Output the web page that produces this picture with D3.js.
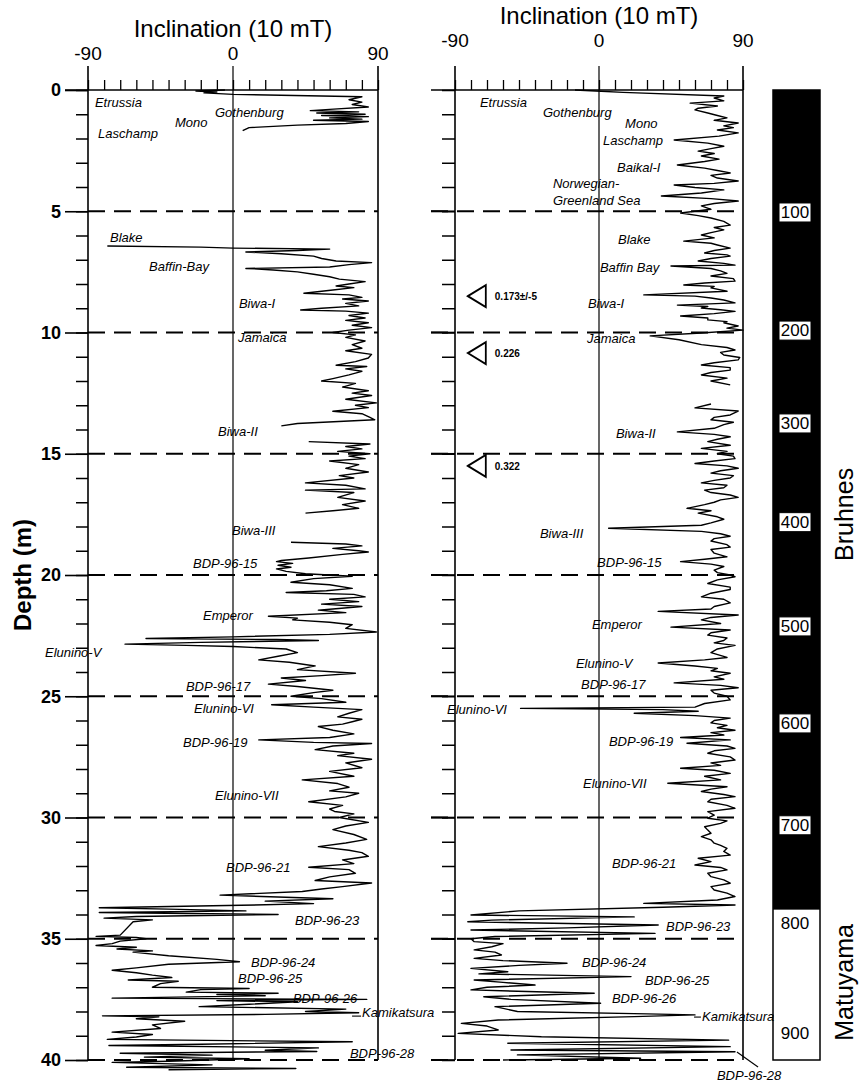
<!DOCTYPE html>
<html>
<head>
<meta charset="utf-8">
<script src="https://cdn.jsdelivr.net/npm/d3@7"></script>
<style>
body { margin: 0; background: #fff; }
svg { font-family: "Liberation Sans", Arial, sans-serif; }
.event { font-style: italic; font-size: 13px; }
</style>
</head>
<body>
<script>
// left core: [depth (m), inclination (deg)], one array per recovered interval
const leftSeg1 = [[0,-5],[0.04,-23],[0.08,-10],[0.12,-18],[0.18,0],[0.28,80],[0.4,72],[0.5,80],[0.6,74],[0.7,84],
  [0.8,60],[0.85,48],[0.9,78],[0.95,52],[1.0,82],[1.05,55],[1.1,84],[1.15,60],[1.2,80],[1.25,50],[1.3,84],[1.38,70],
  [1.45,40],[1.55,10],[1.68,6]];
const leftSeg2 = [[6.43,-78],[6.48,-20],[6.52,0],[6.56,60],[6.62,40],[6.68,8],[6.75,30],[6.85,50],[6.95,55],[7.05,64],
  [7.12,86],[7.2,72],[7.3,60],[7.36,8],[7.42,25],[7.5,40],[7.6,50],[7.7,60],[7.8,66],[7.9,82],[8.0,72],[8.08,64],
  [8.15,75],[8.25,62],[8.38,44],[8.45,72],[8.55,80],[8.62,68],[8.7,84],[8.8,70],[8.9,78],[9.0,55],[9.07,42],[9.12,70],
  [9.2,84],[9.3,72],[9.4,82],[9.5,70],[9.6,84],[9.7,74],[9.8,86],[9.9,72],[10.0,62],[10.1,76],[10.2,70],[10.35,82],
  [10.5,74],[10.65,80],[10.75,70],[10.9,86],[11.05,84],[11.2,76],[11.35,64],[11.4,83],[11.5,70],[11.6,80],[11.75,72],
  [11.9,62],[12.0,55],[12.1,76],[12.25,68],[12.4,84],[12.5,74],[12.6,86],[12.75,70],[12.9,89],[13.0,76],[13.1,84],
  [13.25,62],[13.35,80],[13.5,85],[13.6,88],[13.75,40],[13.85,30]];
const leftSeg3 = [[14.5,47],[14.6,85],[14.7,70],[14.8,80],[14.9,65],[15.0,85],[15.1,72],[15.2,82],[15.3,60],[15.45,78],
  [15.6,70],[15.75,84],[15.9,66],[16.0,75],[16.2,45],[16.3,70],[16.45,82],[16.5,45],[16.6,75],[16.8,65],[16.95,82],
  [17.1,68],[17.25,78],[17.35,62],[17.45,45]];
const leftSeg4 = [[18.65,36],[18.72,70],[18.8,80],[18.9,62],[19.0,78],[19.05,84],[19.15,68],[19.3,47],[19.4,30],[19.45,27],
  [19.52,37],[19.6,28],[19.68,36],[19.75,27],[19.85,33],[19.95,45],[20.05,74],[20.15,50],[20.3,36],[20.4,60],[20.55,74],
  [20.65,58],[20.72,33],[20.8,75],[20.9,82],[21.0,60],[21.1,78],[21.2,55],[21.3,80],[21.4,62],[21.45,53],[21.55,70],
  [21.7,22],[21.78,40],[21.85,37],[21.95,60],[22.05,74],[22.2,70],[22.35,89],[22.45,60],[22.55,0],[22.62,-54],[22.66,27],
  [22.7,53],[22.78,-20],[22.85,-67],[22.9,-29],[22.95,0],[23.05,33],[23.2,40],[23.35,28],[23.5,16],[23.6,35],[23.75,51],
  [23.9,40],[24.05,76],[24.15,55],[24.25,30],[24.35,45],[24.5,22],[24.6,40],[24.75,62],[24.85,50],[25.0,36],[25.1,55],
  [25.25,70],[25.35,24],[25.45,50],[25.55,80],[25.7,72],[25.85,65],[25.95,80],[26.05,74],[26.15,68],[26.25,53],[26.4,62],
  [26.55,75],[26.7,60],[26.8,16],[26.9,50],[26.95,86],[27.05,62],[27.2,51],[27.35,75],[27.45,65],[27.6,86],[27.75,70],
  [27.95,80],[28.1,60],[28.3,75],[28.45,43],[28.6,65],[28.75,72],[28.9,60],[29.0,78],[29.15,70],[29.35,47],[29.5,68],
  [29.65,60],[29.75,63],[29.85,75],[30.0,66],[30.2,84],[30.35,70],[30.5,62],[30.7,75],[30.9,83],[31.05,70],[31.2,53],
  [31.35,72],[31.45,80],[31.6,84],[31.75,68],[31.9,75],[32.05,47],[32.15,72],[32.3,76],[32.45,60],[32.6,51],[32.7,86],
  [32.85,68],[32.95,55],[33.05,43],[33.2,-8],[33.35,62],[33.45,20],[33.55,50],[33.62,5],[33.72,-83],[33.78,-40],
  [33.85,8],[33.92,-83],[34.0,28],[34.08,-60],[34.15,-80],[34.22,-50],[34.3,-62],[34.85,-70],[34.9,-85],[34.95,-60],
  [35.0,-54],[35.1,-70],[35.2,-75],[35.28,-85],[35.35,-60],[35.42,-72],[35.5,-50],[35.55,-62],[35.7,-40],[35.85,-10],
  [35.95,4],[36.05,-40],[36.2,-60],[36.3,-75],[36.4,-60],[36.5,-50],[36.6,-38],[36.7,-65],[36.75,-34],[36.85,-45],
  [37.0,-50],[37.05,10],[37.1,-20],[37.2,-29],[37.25,28],[37.3,-10],[37.35,20],[37.45,-75],[37.5,83],[37.55,-10],
  [37.6,40],[37.7,10],[37.8,-21],[37.9,70],[38.0,45],[38.05,78],[38.12,20],[38.18,-81],[38.22,-46],[38.3,-60],
  [38.4,-30],[38.55,-50],[38.7,-45],[38.85,-75],[38.95,-50],[39.05,-60],[39.15,-78],[39.25,74],[39.35,-20],[39.4,-77],
  [39.5,53],[39.6,20],[39.65,52],[39.72,-70],[39.8,-13],[39.88,-55],[39.95,10],[40.05,-40],[40.1,-75],[40.2,-13],
  [40.3,-66],[40.35,39],[40.4,-40]];

// right core
const rightSeg1 = [[0,-15],[0.04,-2],[0.1,15],[0.25,78],[0.33,72],[0.45,78],[0.54,57],[0.66,74],[0.75,62],[0.82,60],
  [0.95,68],[1.05,74],[1.15,80],[1.25,72],[1.36,87],[1.48,78],[1.55,84],[1.65,74],[1.77,87],[1.9,75],[2.06,47],[2.19,68],
  [2.32,78],[2.42,70],[2.52,62],[2.62,72],[2.72,64],[2.85,75],[2.95,66],[3.09,49],[3.22,66],[3.32,74],[3.42,82],[3.52,70],
  [3.63,74],[3.75,87],[3.85,72],[3.92,47],[4.02,60],[4.12,78],[4.25,64],[4.37,39],[4.48,70],[4.58,87],[4.68,72],[4.78,64],
  [4.92,70],[5.07,51],[5.18,62],[5.28,70],[5.42,78],[5.57,82],[5.67,72],[5.77,78],[5.88,70],[5.98,64],[6.1,72],[6.23,53],
  [6.32,70],[6.39,74],[6.52,82],[6.62,72],[6.72,66],[6.8,80],[6.85,82],[6.95,70],[7.05,62],[7.15,78],[7.22,85],[7.26,45],
  [7.36,70],[7.46,76],[7.56,80],[7.67,70],[7.78,84],[7.88,85],[7.96,66],[8.04,53],[8.1,72],[8.16,70],[8.3,80],[8.45,28],
  [8.5,60],[8.58,70],[8.66,78],[8.78,85],[8.87,49],[8.93,68],[8.99,64],[9.06,76],[9.13,85],[9.22,72],[9.32,51],[9.4,68],
  [9.48,68],[9.55,80],[9.6,78],[9.73,87],[9.82,80],[9.9,90],[10.02,64],[10.14,32],[10.3,50],[10.5,64],[10.62,80],
  [10.72,85],[10.82,76],[10.93,78],[11.03,88],[11.13,87],[11.25,72],[11.34,64],[11.45,82],[11.55,82],[11.65,70],
  [11.75,64],[11.88,80],[12.0,70],[12.16,82]];
const rightSeg2 = [[12.95,70],[13.11,60],[13.24,87],[13.4,82],[13.5,72],[13.6,70],[13.7,84],[13.8,78],[13.95,72],[14.1,49],
  [14.2,72],[14.3,82],[14.4,74],[14.5,68],[14.65,82],[14.78,64],[14.9,80],[15.0,74],[15.1,84],[15.2,85],[15.3,72],[15.4,60],
  [15.5,80],[15.6,87],[15.7,76],[15.8,70],[15.9,84],[16.0,82],[16.1,72],[16.2,64],[16.3,80],[16.4,78],[16.5,66],[16.6,70],
  [16.7,82],[16.8,87],[16.9,76],[17.0,72],[17.1,66],[17.25,55],[17.35,70],[17.45,62],[17.6,74],[17.7,78],[17.85,70],
  [17.95,64],[18.07,6],[18.2,64],[18.3,76],[18.4,82],[18.5,72],[18.6,70],[18.75,80],[18.85,82],[18.95,70],[19.1,72],
  [19.25,80],[19.35,66],[19.45,51],[19.55,70],[19.65,78],[19.8,72],[19.9,74],[20.0,82],[20.07,85],[20.2,74],[20.35,68],
  [20.5,82],[20.6,82],[20.75,70],[20.9,64],[21.0,78],[21.15,82],[21.3,72],[21.4,70],[21.5,37],[21.65,87],[21.75,70],
  [21.85,64],[22.0,76],[22.15,45],[22.27,82],[22.38,70],[22.48,68],[22.6,80],[22.7,78],[22.8,72],[22.9,85],[23.05,74],
  [23.2,70],[23.4,80],[23.5,66],[23.63,37],[23.75,60],[23.85,74],[23.95,70],[24.05,82],[24.2,72],[24.3,78],[24.45,47],
  [24.55,76],[24.65,87],[24.75,70],[24.87,72],[25.0,80],[25.15,82],[25.3,66],[25.45,60],[25.5,-49],[25.55,40],[25.62,62],
  [25.7,22],[25.8,60],[25.9,82],[26.0,72],[26.1,70],[26.2,80],[26.3,74],[26.4,85],[26.5,70],[26.6,78],[26.7,51],[26.8,82],
  [26.94,55],[27.05,80],[27.15,85],[27.25,72],[27.35,68],[27.5,82],[27.63,85],[27.75,70],[27.85,76],[27.97,51],[28.05,72],
  [28.18,82],[28.3,66],[28.45,76],[28.59,43],[28.73,80],[28.83,70],[28.93,64],[29.05,78],[29.14,85],[29.25,70],[29.35,68],
  [29.5,80],[29.62,85],[29.76,68],[29.9,72],[30.03,68],[30.14,80],[30.24,76],[30.38,66],[30.52,68],[30.65,70],[30.79,64],
  [30.92,70],[31.06,72],[31.15,76],[31.27,80],[31.4,78],[31.55,82],[31.68,62],[31.82,70],[31.96,60],[32.06,76],[32.16,80],
  [32.3,68],[32.44,70],[32.57,78],[32.71,82],[32.85,70],[32.99,72],[33.12,80],[33.26,85],[33.4,74],[33.54,28],[33.61,85],
  [33.7,40],[33.85,-50],[34.02,-80],[34.1,22],[34.23,-67],[34.3,-82],[34.43,37],[34.55,-20],[34.64,-80],[34.78,35],
  [34.91,-65],[35.0,-80],[35.12,-78],[35.2,-60],[35.33,-67],[35.46,-78],[35.55,-65],[35.67,-61],[35.81,-78],[35.9,-60],
  [36.01,-20],[36.1,-50],[36.22,-80],[36.36,-57],[36.45,-75],[36.56,20],[36.7,-78],[36.8,-60],[36.91,-40],[37.0,-70],
  [37.11,-80],[37.25,-3],[37.39,-72],[37.5,-55],[37.66,1],[37.8,-65],[38.0,-51],[38.1,30],[38.14,60],[38.21,22],
  [38.35,-63],[38.49,-86],[38.6,-70],[38.76,-63],[38.9,-88],[39.04,-36],[39.18,81],[39.31,-57],[39.45,82],[39.59,-55],
  [39.66,85],[39.79,-51],[39.93,26],[40.0,-60]];

// excursion names: [name, depth of baseline, inclination at text start]
const leftEvents = [["Etrussia",0.70,-85.7],["Gothenburg",1.11,-11.2],["Mono",1.53,-36],["Laschamp",1.98,-83.8],
  ["Blake",6.27,-76.3],["Baffin-Bay",7.46,-52.1],["Biwa-I",8.99,3.7],["Jamaica",10.39,3.1],["Biwa-II",14.27,-9.3],
  ["Biwa-III",18.35,-0.6],["BDP-96-15",19.71,-24.8],["Emperor",21.86,-18.6],["Elunino-V",23.38,-116.7],
  ["BDP-96-17",24.78,-29.2],["Elunino-VI",25.69,-24.2],["BDP-96-19",27.09,-31],["Elunino-VII",29.28,-11.2],
  ["BDP-96-21",32.25,-4.3],["BDP-96-23",34.43,38.5],["BDP-96-24",36.16,11.2],["BDP-96-25",36.82,3.1],
  ["BDP-96-26",37.65,37.2],["Kamikatsura",38.23,80.1],["BDP-96-28",39.92,72.6]];
const rightEvents = [["Etrussia",0.70,-74.4],["Gothenburg",1.11,-35],["Mono",1.57,16.3],["Laschamp",2.27,2.5],
  ["Baikal-I",3.38,11.3],["Norwegian-",4.04,-28.8],["Greenland Sea",4.74,-28.8],["Blake",6.35,11.9],
  ["Baffin Bay",7.51,0.6],["Biwa-I",8.99,-6.9],["Jamaica",10.43,-7.5],["Biwa-II",14.35,10.6],["Biwa-III",18.47,-36.9],
  ["BDP-96-15",19.67,-1.2],["Emperor",22.23,-4.4],["Elunino-V",23.84,-14.4],["BDP-96-17",24.7,-11.2],
  ["Elunino-VI",25.73,-95],["BDP-96-19",27.05,6.2],["Elunino-VII",28.78,-10],["BDP-96-21",32.08,8.1],
  ["BDP-96-23",34.68,41.9],["BDP-96-24",36.16,-10.6],["BDP-96-25",36.91,28.7],["BDP-96-26",37.65,8.1],
  ["Kamikatsura",38.39,64.4],["BDP-96-28",40.82,73.7]];
const leftLeaders = [[[38.19,73.9],[38.19,79.5]]];
const rightLeaders = [[[38.23,59.4],[38.23,63.7]],[[39.67,86.2],[40.29,99.4]]];

// dated horizons (right core)
const markDepths = [8.5, 10.85, 15.5];
const markLabels = ["0.173\u00b1/-5", "0.226", "0.322"];

// age scale (ka) and polarity
const ages = [100, 200, 300, 400, 500, 600, 700, 800, 900];
const ageDepths = [5.03, 9.9, 13.73, 17.8, 22.1, 26.1, 30.3, 34.35, 38.9];
const brunhesBase = 33.8;
const chrons = [["Bruhnes", 17.5], ["Matuyama", 36.8]];

const incTicks = d3.range(-90, 91, 10);
const incLabels = [-90, 0, 90];
const depthMinor = d3.range(0, 41, 1);
const depthMajor = d3.range(0, 41, 5);

const width = 860, height = 1084;
const svg = d3.select("body").append("svg")
    .attr("width", width)
    .attr("height", height);

const y = d3.scaleLinear().domain([0, 40]).range([90, 1060]);

const panels = [
    { x: d3.scaleLinear().domain([-90, 90]).range([88, 378]), segs: [leftSeg1, leftSeg2, leftSeg3, leftSeg4],
      events: leftEvents, leaders: leftLeaders, titleY: 37, labelY: 60, minor: 12, lineFrom: 65, labels: true },
    { x: d3.scaleLinear().domain([-90, 90]).range([455, 743]), segs: [rightSeg1, rightSeg2],
      events: rightEvents, leaders: rightLeaders, titleY: 24, labelY: 47, minor: 13, lineFrom: 431, labels: false }
];

panels.forEach(p => {
    const g = svg.append("g");
    const x = p.x;

    // dashed depth lines
    g.selectAll(".dash").data(depthMajor.filter(d => d > 0)).enter().append("line")
        .attr("x1", p.labels ? x(-90) : p.lineFrom).attr("x2", x(90))
        .attr("y1", d => y(d)).attr("y2", d => y(d))
        .attr("stroke", "#000").attr("stroke-width", 1.8).attr("stroke-dasharray", "17,9");

    // top frame line
    g.append("line").attr("x1", p.lineFrom).attr("x2", x(90))
        .attr("y1", y(0)).attr("y2", y(0)).attr("stroke", "#000").attr("stroke-width", 1.6);

    // verticals at -90, 0, 90
    g.selectAll(".vl").data(incLabels).enter().append("line")
        .attr("x1", d => x(d)).attr("x2", d => x(d))
        .attr("y1", 66).attr("y2", y(40))
        .attr("stroke", "#000").attr("stroke-width", d => d === 0 ? 1.2 : 1.6);

    // top ticks
    const top = g.append("g").attr("transform", `translate(0,${y(0)})`)
        .call(d3.axisTop(x).tickValues(incTicks).tickSize(10).tickFormat(""));
    top.select(".domain").remove();
    top.selectAll("line").attr("stroke-width", 1.3);

    g.selectAll(".tl").data(incLabels).enter().append("text")
        .attr("x", d => x(d)).attr("y", p.labelY)
        .attr("text-anchor", "middle").attr("font-size", 19)
        .text(d => d);

    g.append("text").attr("x", x(0)).attr("y", p.titleY)
        .attr("text-anchor", "middle").attr("font-size", 24)
        .text("Inclination (10 mT)");

    // depth ticks
    const minorAx = g.append("g").attr("transform", `translate(${x(-90)},0)`)
        .call(d3.axisLeft(y).tickValues(depthMinor).tickSize(p.minor).tickFormat(""));
    minorAx.select(".domain").remove();
    minorAx.selectAll("line").attr("stroke-width", 1.5);

    if (p.labels) {
        const majorAx = g.append("g").attr("transform", `translate(${x(-90)},0)`)
            .call(d3.axisLeft(y).tickValues(depthMajor).tickSize(23).tickPadding(4).tickFormat(d3.format("d")));
        majorAx.select(".domain").remove();
        majorAx.selectAll("line").attr("stroke-width", 1.6);
        majorAx.selectAll("text").attr("font-size", 18).attr("font-weight", "bold")
            .attr("font-family", "Liberation Sans, Arial, sans-serif");
    } else {
        g.selectAll(".mj").data(depthMajor.filter(d => d > 0)).enter().append("line")
            .attr("x1", p.lineFrom).attr("x2", x(-90))
            .attr("y1", d => y(d)).attr("y2", d => y(d))
            .attr("stroke", "#000").attr("stroke-width", 1.6);
    }

    // inclination curves
    const line = d3.line().x(d => x(d[1])).y(d => y(d[0]));
    g.selectAll(".curve").data(p.segs).enter().append("path")
        .attr("d", line).attr("fill", "none")
        .attr("stroke", "#000").attr("stroke-width", 1.4).attr("stroke-linejoin", "round");

    // event names
    g.selectAll(".event").data(p.events).enter().append("text")
        .attr("class", "event")
        .attr("x", d => x(d[2])).attr("y", d => y(d[1]))
        .text(d => d[0]);

    g.selectAll(".leader").data(p.leaders).enter().append("path")
        .attr("d", line).attr("stroke", "#000").attr("stroke-width", 1.1);
});

// dated horizons in the right core
const xr = panels[1].x;
const marks = svg.append("g");
markDepths.forEach((d, i) => {
    const tx = xr(-82), ty = y(d);
    marks.append("path")
        .attr("d", `M${tx},${ty}L${tx + 18},${ty - 11}L${tx + 18},${ty + 11}Z`)
        .attr("fill", "#fff").attr("stroke", "#000").attr("stroke-width", 1.8);
    marks.append("text")
        .attr("x", tx + 27).attr("y", ty + 4)
        .attr("font-size", 10).attr("font-weight", "bold")
        .text(markLabels[i]);
});

// polarity column
const col = svg.append("g");
const colX = 773, colW = 47;
col.append("rect").attr("x", colX).attr("y", y(0)).attr("width", colW).attr("height", y(brunhesBase) - y(0))
    .attr("fill", "#000");
col.append("rect").attr("x", colX).attr("y", y(0)).attr("width", colW).attr("height", y(40) - y(0))
    .attr("fill", "none").attr("stroke", "#000").attr("stroke-width", 1.5);

ages.forEach((a, i) => {
    const cy = y(ageDepths[i]);
    if (ageDepths[i] < brunhesBase) {
        col.append("rect").attr("x", colX + 6).attr("y", cy - 9).attr("width", 32).attr("height", 19)
            .attr("fill", "#fff").attr("stroke", "#000").attr("stroke-width", 1);
    }
    col.append("text").attr("x", colX + 22).attr("y", cy + 6)
        .attr("text-anchor", "middle").attr("font-size", 17)
        .text(a);
});

col.selectAll(".chron").data(chrons).enter().append("text")
    .attr("transform", d => `translate(853,${y(d[1])}) rotate(-90)`)
    .attr("text-anchor", "middle").attr("font-size", 25)
    .text(d => d[0]);

svg.append("text").attr("transform", "translate(31,575) rotate(-90)")
    .attr("text-anchor", "middle").attr("font-size", 24).attr("font-weight", "bold")
    .text("Depth (m)");
</script>
</body>
</html>
